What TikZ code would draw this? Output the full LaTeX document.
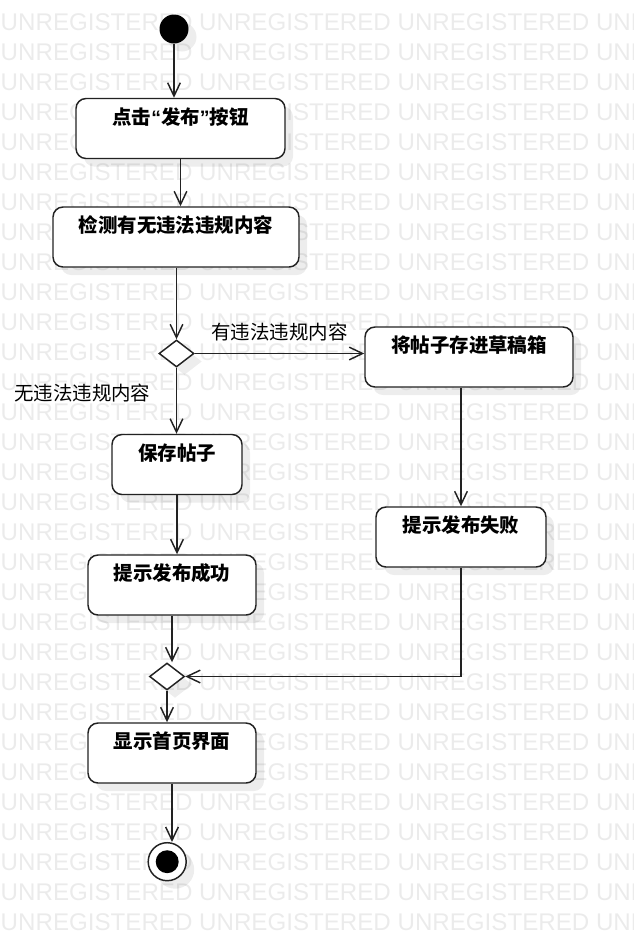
\documentclass[tikz,border=0pt]{standalone}
\usepackage{fontspec}
\usepackage{xcolor}
\usepackage{tikz}
\usetikzlibrary{arrows.meta,shapes.geometric,shadows}

\setsansfont{Liberation Sans}
\newfontfamily\cjk{Noto Sans CJK SC}
\newfontfamily\latin{Liberation Sans}
\definecolor{wmgray}{HTML}{EBEBEB}
\definecolor{ink}{HTML}{222222}

\begin{document}
\begin{tikzpicture}[x=0.75pt, y=-0.75pt, line width=1.1pt,
    >={Straight Barb[length=10pt,width=9.5pt]},
    shadowed/.style={general shadow={fill=black, opacity=0.07, shadow xshift=6pt, shadow yshift=-6pt}},
    act/.style={rectangle, rounded corners=7.5pt, draw=ink, fill=white, minimum height=45pt, inner sep=0pt, shadowed},
    acttext/.style={anchor=center, yshift=-14.25pt, inner sep=0pt, text=black, font=\cjk\bfseries\fontsize{14.6pt}{17pt}\selectfont},
    guard/.style={inner sep=0pt, text=black, font=\cjk\fontsize{14.6pt}{17pt}\selectfont},
    branch/.style={diamond, draw=ink, fill=white, minimum width=26.25pt, minimum height=20.25pt, inner sep=0pt, shadowed},
    wmark/.style={anchor=base west, inner sep=0pt, text=wmgray, font=\sffamily\fontsize{18.1pt}{20pt}\selectfont},
    flow/.style={draw=ink, ->}]

    \def\wm{UNREGISTERED}

    \useasboundingbox (0,0) rectangle (633,940);

    % background marks
    \begin{scope}
      \clip (0,0) rectangle (633,940);
      \foreach \row in {1,...,31}
        \node[wmark] at (0,30*\row) {\wm\ \wm\ \wm\ \wm};
    \end{scope}

    % start / end
    \node[circle, fill=black, minimum size=21.75pt, inner sep=0pt, shadowed] (init) at (174,29) {};
    \node[circle, draw=ink, fill=white, minimum size=28.5pt, inner sep=0pt, shadowed] (final) at (167.2,861.7) {};
    \fill (final) circle (8.6pt);

    % actions
    \node[act, minimum width=156.75pt, label={[acttext]north:点击{\latin“}发布{\latin”}按钮}] (click)   at (180.5,128.5) {};
    \node[act, minimum width=184.5pt,  label={[acttext]north:检测有无违法违规内容}]              (check)   at (176,237)     {};
    \node[act, minimum width=156pt,    label={[acttext]north:将帖子存进草稿箱}]                  (draft)   at (469,357)     {};
    \node[act, minimum width=97.5pt,   label={[acttext]north:保存帖子}]                          (save)    at (177,464.5)   {};
    \node[act, minimum width=127.5pt,  label={[acttext]north:提示发布失败}]                      (fail)    at (461,537)     {};
    \node[act, minimum width=126pt,    label={[acttext]north:提示发布成功}]                      (success) at (172,585)     {};
    \node[act, minimum width=126pt,    label={[acttext]north:显示首页界面}]                      (home)    at (172,753)     {};

    % decision / merge
    \node[branch] (dec)   at (176.5,353.5) {};
    \node[branch] (merge) at (167,676.5)   {};

    % flows
    \draw[flow] (init) -- (init |- click.north);
    \draw[flow] (click.south) -- (click.south |- check.north);
    \draw[flow] (dec.north |- check.south) -- (dec.north);
    \draw[flow] (dec.east) -- (dec.east -| draft.west) node[guard, midway, above=9pt] {有违法违规内容};
    \draw[flow] (dec.south) -- (dec.south |- save.north) node[guard, pos=0.39, left=19pt] {无违法违规内容};
    \draw[flow] (save.south) -- (save.south |- success.north);
    \draw[flow] (fail.north |- draft.south) -- (fail.north);
    \draw[flow] (success.south) -- (success.south |- merge.north);
    \draw[flow] (fail.south) |- (merge.east);
    \draw[flow] (merge.south) -- (merge.south |- home.north);
    \draw[flow] (home.south) -- (home.south |- final.north);

\end{tikzpicture}
\end{document}
